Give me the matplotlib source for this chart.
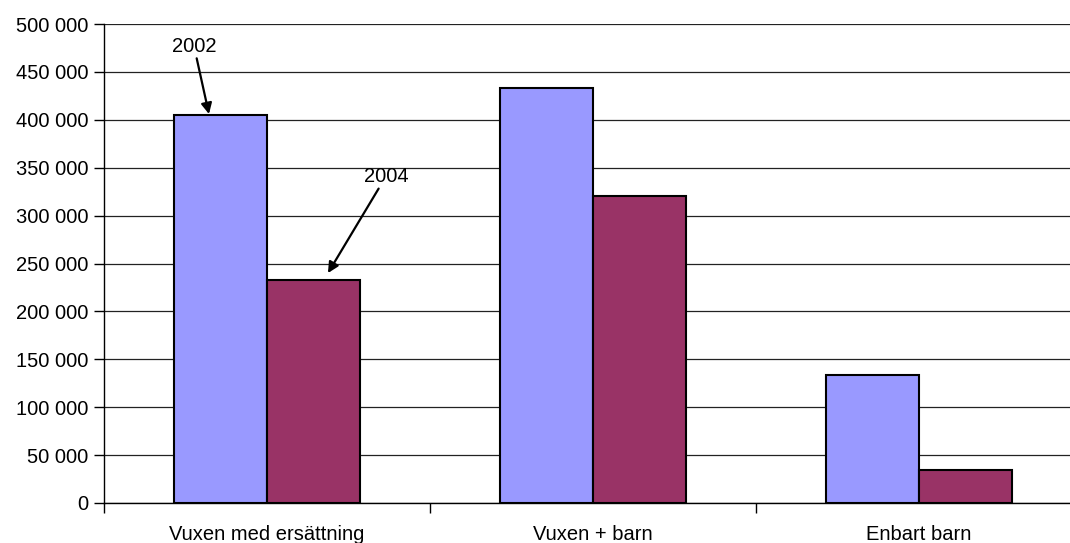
import matplotlib
matplotlib.use("Agg")
import matplotlib.pyplot as plt
import numpy as np
from matplotlib.ticker import FixedLocator, FuncFormatter

categories = ["Vuxen med ersättning", "Vuxen + barn", "Enbart barn"]
years = ["2002", "2004"]
values_2002 = [405000, 433000, 134000]
values_2004 = [233000, 320000, 34500]
y_ticks = [0, 50000, 100000, 150000, 200000, 250000, 300000, 350000, 400000, 450000, 500000]

plt.rcParams['font.family'] = ['Liberation Sans', 'DejaVu Sans']
FS = 14.5

fig = plt.figure(figsize=(10.70, 5.43), dpi=100)
ax = fig.add_axes([104 / 1070, 40 / 543, 978 / 1070, 479 / 543])

x = np.arange(len(categories))
w = 93 / 326
ax.bar(x - w / 2, values_2002, width=w, color='#9999FF', edgecolor='black', linewidth=1.5, zorder=3)
ax.bar(x + w / 2, values_2004, width=w, color='#993366', edgecolor='black', linewidth=1.5, zorder=3)

ax.set_xlim(-0.5, len(categories) - 0.5)
ax.set_ylim(0, 500000)
ax.yaxis.set_major_locator(FixedLocator(y_ticks))
ax.yaxis.set_major_formatter(FuncFormatter(lambda v, p: f"{int(v):,}".replace(',', ' ')))
ax.yaxis.grid(True, color='#222222', linewidth=0.9, zorder=0)
ax.set_axisbelow(True)

ax.set_xticks(x)
ax.set_xticklabels(categories)
ax.set_xticks(np.arange(-0.5, len(categories), 1.0), minor=True)
ax.tick_params(axis='x', which='major', length=0, pad=16, labelsize=FS)
ax.tick_params(axis='x', which='minor', length=7, width=1, color='black', direction='out')
ax.tick_params(axis='y', length=7, width=1, pad=4.5, labelsize=FS, direction='out')

for s in ['top', 'right']:
    ax.spines[s].set_visible(False)
for s in ['left', 'bottom']:
    ax.spines[s].set_color('black')
    ax.spines[s].set_linewidth(1.0)

arrow = dict(arrowstyle='-|>', color='black', lw=1.6, mutation_scale=16, shrinkA=0, shrinkB=0)
ax.annotate(years[0], xy=(-0.178, 406000), xytext=(-0.224, 477000),
            ha='center', va='center', fontsize=FS, arrowprops=arrow)
ax.annotate(years[1], xy=(0.187, 240000), xytext=(0.365, 341000),
            ha='center', va='center', fontsize=FS, arrowprops=arrow)

fig.savefig("out.png", dpi=100)
